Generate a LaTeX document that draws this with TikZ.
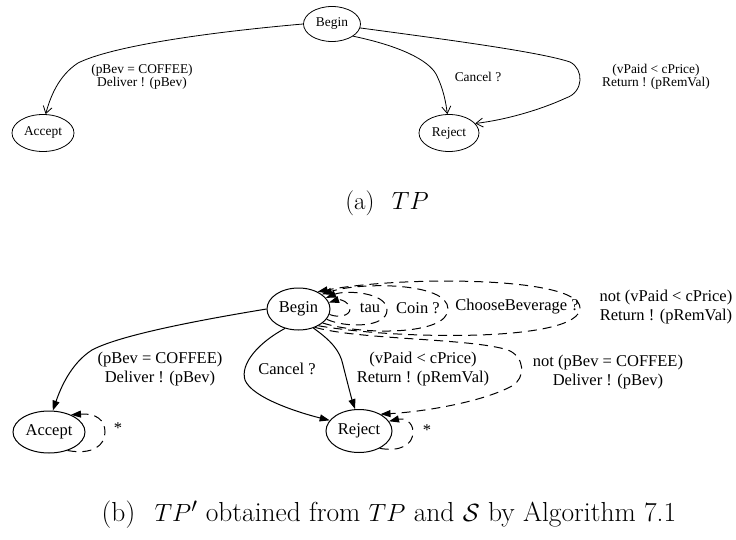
\documentclass[tikz,border=0pt]{standalone}
\usepackage{fontspec}
\usepackage{tikz}
\usetikzlibrary{shapes.geometric, arrows.meta, positioning}
\newfontfamily\dotfont{Liberation Serif}

\begin{document}
\begin{tikzpicture}[
    x=1pt, y=-1pt,
    statea/.style={draw, ellipse, line width=0.8pt, inner sep=0pt, font=\dotfont\fontsize{13.4}{13.4}\selectfont},
    stateb/.style={draw, ellipse, line width=1pt, inner sep=0pt, font=\dotfont\fontsize{16.5}{19}\selectfont},
    edgea/.style={-{Straight Barb[length=7pt, width=9pt]}, line width=0.8pt},
    edgeb/.style={-{Triangle[length=10pt, width=7pt]}, line width=1pt},
    loopb/.style={edgeb, dash pattern=on 9pt off 6pt},
    lbla/.style={align=center, inner sep=0pt, font=\dotfont\fontsize{13.4}{13.4}\selectfont},
    lblb/.style={align=center, inner sep=0pt, font=\dotfont\fontsize{16.5}{19}\selectfont},
    caption/.style={inner sep=0pt, font=\fontsize{25}{30}\selectfont}
]
\useasboundingbox (0,0) rectangle (736,540);

% (a) Nodes
\node[statea, minimum width=57pt, minimum height=35pt] (tbegin) at (332,24) {Begin};
\node[statea, minimum width=62pt, minimum height=37pt] (taccept) at (43,133) {Accept};
\node[statea, minimum width=60pt, minimum height=37pt] (treject) at (449,133) {Reject};

% (a) Edges
\draw[edgea] (tbegin.west) .. controls (200,33) and (110,47) .. (78,63) .. controls (58,76) and (50,98) .. (taccept.82);
\draw[edgea] (tbegin.-30) .. controls (400,46) and (428,60) .. (436,74) .. controls (444,90) and (446,104) .. (treject.95);
\draw[edgea] (tbegin.-8) .. controls (450,40) and (540,52) .. (570,62) .. controls (584,69) and (584,92) .. (566,98) .. controls (540,110) and (505,120) .. (treject.20);

\node[lbla] (tlcoffee) at (142,77) {(pBev = COFFEE)\\Deliver ! (pBev)};
\node[lbla] (tlcancel) at (478,77) {Cancel ?};
\node[lbla] (tlreturn) at (656,77) {(vPaid < cPrice)\\Return ! (pRemVal)};

\node[caption] (capa) at (387,203) {(a)\hspace{0.7em}$TP$};

% (b) Nodes
\node[stateb, minimum width=63pt, minimum height=42pt] (bbegin) at (298.5,309) {Begin};
\node[stateb, minimum width=72pt, minimum height=42pt] (baccept) at (49,432) {Accept};
\node[stateb, minimum width=66pt, minimum height=43pt] (breject) at (359,431) {Reject};

% (b) Solid edges
\draw[edgeb] (bbegin.west) .. controls (200,320) and (120,335) .. (92,350) .. controls (70,364) and (60,390) .. (baccept.80);
\draw[edgeb] (bbegin.235) .. controls (258,343) and (240,364) .. (245,380) .. controls (252,398) and (300,413) .. (breject.160);
\draw[edgeb] (bbegin.-52) .. controls (330,340) and (340,350) .. (343,365) .. controls (348,385) and (352,400) .. (breject.100);

% (b) Dashed loops on Begin
\draw[loopb] (bbegin.-10) .. controls (338,318) and (350,316) .. (350,309) .. controls (350,302) and (340,299) .. (bbegin.12);
\draw[loopb] (bbegin.-20) .. controls (345,328) and (387,328) .. (387,310) .. controls (387,292) and (345,290) .. (bbegin.22);
\draw[loopb] (bbegin.-30) .. controls (360,335) and (448,336) .. (448,309) .. controls (448,282) and (360,282) .. (bbegin.32);
\draw[loopb] (bbegin.-40) .. controls (400,340) and (580,342) .. (580,308) .. controls (580,276) and (400,276) .. (bbegin.42);

% (b) Dashed edge to Reject and loops on Accept, Reject
\draw[loopb] (bbegin.-48) .. controls (360,340) and (470,338) .. (508,350) .. controls (525,357) and (526,378) .. (512,386) .. controls (480,403) and (420,412) .. (breject.38);
\draw[loopb] (breject.-40) .. controls (400,452) and (413,445) .. (413,432) .. controls (413,421) and (403,418) .. (breject.18);
\draw[loopb] (baccept.-45) .. controls (92,455) and (105,446) .. (105,432) .. controls (105,420) and (96,413) .. (baccept.38);

% (b) Labels
\node[lblb] (blcoffee) at (160,369) {(pBev = COFFEE)\\Deliver ! (pBev)};
\node[lblb] (blcancel) at (287,369) {Cancel ?};
\node[lblb] (blreturn) at (423,369) {(vPaid < cPrice)\\Return ! (pRemVal)};
\node[lblb] (blnotcoffee) at (608,372) {not (pBev = COFFEE)\\Deliver ! (pBev)};
\node[lblb] (blnotreturn) at (666,307) {not (vPaid < cPrice)\\Return ! (pRemVal)};
\node[lblb] (bltau) at (370,308) {tau};
\node[lblb] (blcoin) at (418,308) {Coin ?};
\node[lblb] (blchoose) at (517,307) {ChooseBeverage ?};
\node[lblb] (blstara) at (118,428) {*};
\node[lblb] (blstarr) at (427,430) {*};

\node[caption, font=\fontsize{27.5}{33}\selectfont] (capb) at (389,515) {(b)\hspace{0.7em}$TP'$ obtained from $TP$ and $\mathcal{S}$ by Algorithm 7.1};
\end{tikzpicture}
\end{document}
